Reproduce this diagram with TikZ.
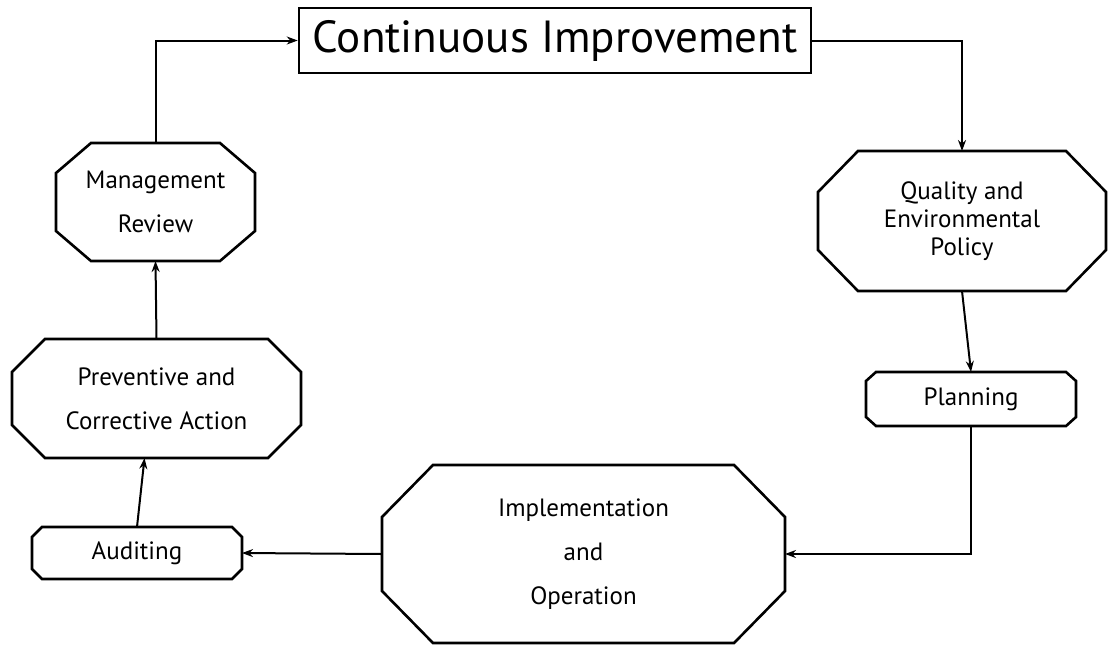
\documentclass[tikz,border=0pt]{standalone}
\usepackage{fontspec}
\setmainfont{PT Sans}
\usetikzlibrary{arrows.meta}
% octagon round a named node: node, horizontal cut, vertical cut
\newcommand{\drawoctagon}[3]{%
  \draw [octagon_line] ([xshift=#2]#1.north west) -- ([xshift=-#2]#1.north east) -- ([yshift=-#3]#1.north east) -- ([yshift=#3]#1.south east) -- ([xshift=-#2]#1.south east) -- ([xshift=#2]#1.south west) -- ([yshift=#3]#1.south west) -- ([yshift=-#3]#1.north west) -- cycle;}
\begin{document}
\begin{tikzpicture}[x=1pt,y=-1pt,>={Stealth[length=11pt,width=8pt]},font=\fontsize{25}{44}\selectfont]

    % Define node styles
    \tikzstyle{title_block} = [draw, line width=2.6pt, rectangle, minimum width=512pt, minimum height=65pt, inner sep=0pt, text centered, font=\fontsize{45}{50}\selectfont]
    \tikzstyle{octagon_block} = [rectangle, inner sep=0pt, outer sep=0pt, align=center]
    \tikzstyle{octagon_line} = [line width=2.6pt, line join=miter]
    \tikzstyle{review_block} = [octagon_block, minimum width=199pt, minimum height=118pt]
    \tikzstyle{action_block} = [octagon_block, minimum width=289pt, minimum height=119pt]
    \tikzstyle{auditing_block} = [octagon_block, minimum width=210pt, minimum height=52pt]
    \tikzstyle{operation_block} = [octagon_block, minimum width=403pt, minimum height=178pt]
    \tikzstyle{policy_block} = [octagon_block, minimum width=288pt, minimum height=140pt, font=\fontsize{25}{28}\selectfont]
    \tikzstyle{planning_block} = [octagon_block, minimum width=210pt, minimum height=54pt]
    \tikzstyle{flow_arrow} = [->, line width=2pt]

    \useasboundingbox (0,0) rectangle (1115,646);

    % Draw nodes
    \node [title_block] (improvement) at (555,40.5) {Continuous Improvement};
    \node [review_block] (review) at (155.5,202) {Management\\Review};
    \node [action_block] (action) at (156.5,398.5) {Preventive and\\Corrective Action};
    \node [auditing_block] (auditing) at (137,553) {Auditing};
    \node [operation_block] (operation) at (583.5,554) {Implementation\\and\\Operation};
    \node [policy_block] (policy) at (962,221) {Quality and\\Environmental\\Policy};
    \node [planning_block] (planning) at (971,399) {Planning};

    % Draw octagons
    \drawoctagon{review}{35pt}{30pt}
    \drawoctagon{action}{33pt}{33pt}
    \drawoctagon{auditing}{10pt}{10pt}
    \drawoctagon{operation}{51pt}{52pt}
    \drawoctagon{policy}{40pt}{41pt}
    \drawoctagon{planning}{10pt}{9pt}

    % Draw arrows
    \draw [flow_arrow] (review.north) |- (improvement.west);
    \draw [flow_arrow] (improvement.east) -| (policy.north);
    \draw [flow_arrow] (policy.south) -- (planning.north);
    \draw [flow_arrow] (planning.south) |- (operation.east);
    \draw [flow_arrow] (operation.west) -- (auditing.east);
    \draw [flow_arrow] (auditing.north) -- ([xshift=-12pt]action.south);
    \draw [flow_arrow] (action.north) -- (review.south);

\end{tikzpicture}
\end{document}
